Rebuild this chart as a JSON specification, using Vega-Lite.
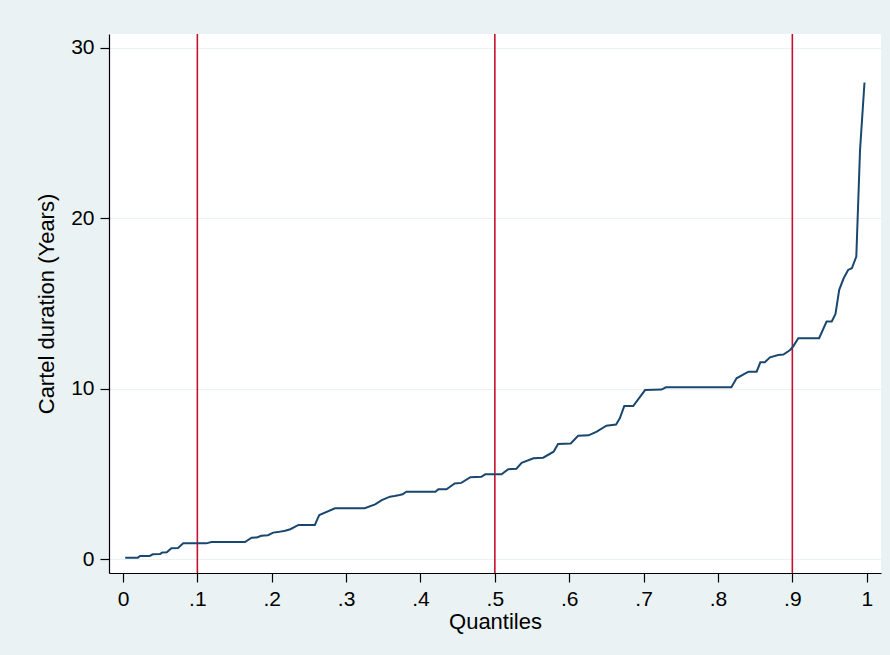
{
  "$schema": "https://vega.github.io/schema/vega-lite/v6.json",
  "width": 772,
  "height": 539,
  "autosize": {"type": "none"},
  "padding": {"left": 109, "top": 34, "right": 9, "bottom": 82},
  "background": "#EAF2F3",
  "config": {
    "view": {"fill": "white", "stroke": null},
    "font": "Liberation Sans",
    "axis": {
      "labelFont": "Liberation Sans",
      "titleFont": "Liberation Sans",
      "labelFontSize": 21,
      "titleFontSize": 22,
      "titleFontWeight": "normal",
      "labelColor": "black",
      "titleColor": "black",
      "domainColor": "black",
      "domainWidth": 1.2,
      "tickColor": "black",
      "tickWidth": 1.2,
      "tickSize": 9
    }
  },
  "datasets": {
    "curve": [
      {"q": 0.003, "dur": 0.08}, {"q": 0.020, "dur": 0.08}, {"q": 0.023, "dur": 0.18}, {"q": 0.036, "dur": 0.18},
      {"q": 0.040, "dur": 0.28}, {"q": 0.050, "dur": 0.30}, {"q": 0.053, "dur": 0.39}, {"q": 0.059, "dur": 0.40},
      {"q": 0.065, "dur": 0.63}, {"q": 0.074, "dur": 0.65}, {"q": 0.081, "dur": 0.92}, {"q": 0.112, "dur": 0.92},
      {"q": 0.119, "dur": 1.0}, {"q": 0.164, "dur": 1.0}, {"q": 0.173, "dur": 1.25}, {"q": 0.180, "dur": 1.27},
      {"q": 0.186, "dur": 1.37}, {"q": 0.195, "dur": 1.40}, {"q": 0.202, "dur": 1.55}, {"q": 0.208, "dur": 1.58},
      {"q": 0.218, "dur": 1.66}, {"q": 0.225, "dur": 1.75}, {"q": 0.236, "dur": 2.0}, {"q": 0.258, "dur": 2.0},
      {"q": 0.262, "dur": 2.4}, {"q": 0.264, "dur": 2.58}, {"q": 0.285, "dur": 2.98}, {"q": 0.325, "dur": 2.98},
      {"q": 0.339, "dur": 3.21}, {"q": 0.348, "dur": 3.46}, {"q": 0.359, "dur": 3.66}, {"q": 0.365, "dur": 3.70},
      {"q": 0.372, "dur": 3.76}, {"q": 0.376, "dur": 3.80}, {"q": 0.381, "dur": 3.95}, {"q": 0.420, "dur": 3.95},
      {"q": 0.424, "dur": 4.09}, {"q": 0.435, "dur": 4.09}, {"q": 0.446, "dur": 4.44}, {"q": 0.455, "dur": 4.47},
      {"q": 0.467, "dur": 4.80}, {"q": 0.482, "dur": 4.83}, {"q": 0.487, "dur": 4.97}, {"q": 0.509, "dur": 4.97},
      {"q": 0.518, "dur": 5.27}, {"q": 0.529, "dur": 5.30}, {"q": 0.536, "dur": 5.65}, {"q": 0.552, "dur": 5.91},
      {"q": 0.565, "dur": 5.95}, {"q": 0.579, "dur": 6.30}, {"q": 0.585, "dur": 6.75}, {"q": 0.602, "dur": 6.78},
      {"q": 0.612, "dur": 7.24}, {"q": 0.626, "dur": 7.26}, {"q": 0.637, "dur": 7.48}, {"q": 0.650, "dur": 7.83},
      {"q": 0.663, "dur": 7.90}, {"q": 0.668, "dur": 8.26}, {"q": 0.674, "dur": 8.98}, {"q": 0.686, "dur": 8.98},
      {"q": 0.702, "dur": 9.92}, {"q": 0.724, "dur": 9.95}, {"q": 0.730, "dur": 10.08}, {"q": 0.818, "dur": 10.08},
      {"q": 0.825, "dur": 10.61}, {"q": 0.835, "dur": 10.85}, {"q": 0.841, "dur": 11.0}, {"q": 0.852, "dur": 11.0},
      {"q": 0.857, "dur": 11.55}, {"q": 0.863, "dur": 11.55}, {"q": 0.870, "dur": 11.84}, {"q": 0.881, "dur": 11.98},
      {"q": 0.888, "dur": 12.0}, {"q": 0.897, "dur": 12.27}, {"q": 0.901, "dur": 12.47}, {"q": 0.908, "dur": 12.96},
      {"q": 0.936, "dur": 12.96}, {"q": 0.946, "dur": 13.94}, {"q": 0.953, "dur": 13.94}, {"q": 0.958, "dur": 14.39},
      {"q": 0.963, "dur": 15.8}, {"q": 0.969, "dur": 16.48}, {"q": 0.975, "dur": 16.97}, {"q": 0.980, "dur": 17.07},
      {"q": 0.986, "dur": 17.75}, {"q": 0.991, "dur": 24.0}, {"q": 0.997, "dur": 27.97}
    ],
    "marks": [{"q": 0.1}, {"q": 0.5}, {"q": 0.9}]
  },
  "layer": [
    {
      "data": {"name": "marks"},
      "mark": {"type": "rule", "color": "#C8102E", "strokeWidth": 1.6},
      "encoding": {
        "x": {"field": "q", "type": "quantitative", "scale": {"domain": [-0.0188, 1.0192], "nice": false, "zero": false}}
      }
    },
    {
      "data": {"name": "curve"},
      "mark": {"type": "line", "color": "#1A476F", "strokeWidth": 2, "interpolate": "linear"},
      "encoding": {
        "x": {
          "field": "q", "type": "quantitative",
          "scale": {"domain": [-0.0188, 1.0192], "nice": false, "zero": false},
          "axis": {
            "title": "Quantiles",
            "values": [0, 0.1, 0.2, 0.3, 0.4, 0.5, 0.6, 0.7, 0.8, 0.9, 1],
            "labelExpr": "replace(format(datum.value, '.1~f'), '0.', '.')",
            "grid": false,
            "labelPadding": 6,
            "titlePadding": 2
          }
        },
        "y": {
          "field": "dur", "type": "quantitative",
          "scale": {"domain": [-0.82, 30.82], "nice": false, "zero": false},
          "axis": {
            "title": "Cartel duration (Years)",
            "values": [0, 10, 20, 30],
            "grid": true,
            "gridColor": "#EAF2F3",
            "gridWidth": 1.2,
            "labelPadding": 6,
            "titlePadding": 12
          }
        }
      }
    }
  ]
}
